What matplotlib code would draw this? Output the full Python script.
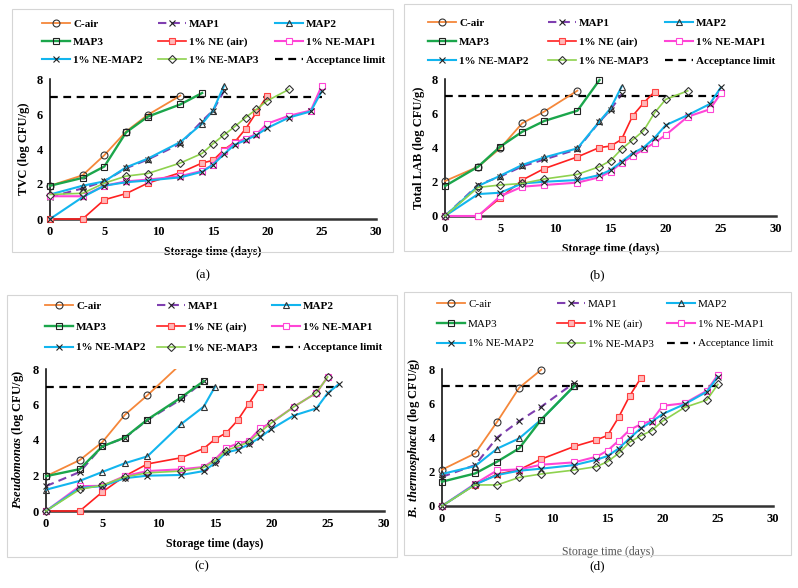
import matplotlib
matplotlib.use("Agg")
import matplotlib.pyplot as plt
from matplotlib.patches import Rectangle

plt.rcParams["font.family"] = "serif"
plt.rcParams["font.serif"] = ["Liberation Serif", "DejaVu Serif"]
plt.rcParams["mathtext.fontset"] = "custom"
plt.rcParams["mathtext.it"] = "Liberation Serif:italic:bold"
plt.rcParams["mathtext.rm"] = "Liberation Serif:bold"

# sampling days; each series uses the first len(values) of them
sampling_days = [0, 3, 5, 7, 9, 12, 14, 15, 16, 17, 18, 19, 20, 22, 24, 25, 26]
series_names = ["C-air", "MAP1", "MAP2", "MAP3", "1% NE (air)",
                "1% NE-MAP1", "1% NE-MAP2", "1% NE-MAP3"]
acceptance = 7

# (a) TVC
tvc_cair = [1.9, 2.5, 3.65, 5.0, 5.95, 7.05]
tvc_map1 = [1.25, 1.75, 2.15, 2.9, 3.4, 4.3, 5.6, 6.2, 7.3]
tvc_map2 = [1.4, 1.9, 2.15, 2.95, 3.45, 4.4, 5.45, 6.2, 7.6]
tvc_map3 = [1.9, 2.35, 3.0, 4.95, 5.85, 6.55, 7.2]
tvc_ne_air = [0, 0, 1.1, 1.45, 2.05, 2.65, 3.2, 3.35, 3.95, 4.4, 5.15, 6.1, 7.05]
tvc_ne_map1 = [1.3, 1.3, 1.9, 2.15, 2.25, 2.45, 2.75, 3.1, 3.9, 4.35, 4.6, 4.85, 5.45, 5.9, 6.2, 7.6]
tvc_ne_map2 = [0, 1.25, 1.9, 2.1, 2.2, 2.38, 2.7, 3.1, 3.7, 4.25, 4.5, 4.8, 5.2, 5.8, 6.15, 7.3]
tvc_ne_map3 = [1.4, 1.47, 2.05, 2.45, 2.6, 3.2, 3.75, 4.3, 4.8, 5.28, 5.8, 6.27, 6.76, 7.41]
tvc_accept_days = [0, 25]

# (b) Total LAB
lab_cair = [2.04, 2.88, 3.95, 5.42, 6.1, 7.32]
lab_map1 = [0, 1.82, 2.3, 2.9, 3.3, 3.9, 5.5, 6.2, 7.1]
lab_map2 = [0, 1.75, 2.35, 2.98, 3.42, 3.95, 5.52, 6.28, 7.55]
lab_map3 = [1.75, 2.88, 4.05, 4.92, 5.55, 6.15, 7.94]
lab_ne_air = [0, 0, 1.05, 2.1, 2.77, 3.45, 4.0, 4.08, 4.47, 5.84, 6.6, 7.26]
lab_ne_map1 = [0, 0, 1.15, 1.71, 1.81, 1.95, 2.26, 2.59, 3.1, 3.5, 3.89, 4.28, 4.73, 5.8, 6.23, 7.16]
lab_ne_map2 = [0, 1.28, 1.36, 1.9, 2.0, 2.1, 2.39, 2.68, 3.17, 3.66, 4.0, 4.57, 5.3, 5.89, 6.54, 7.51]
lab_ne_map3 = [0, 1.67, 1.81, 1.9, 2.16, 2.43, 2.88, 3.23, 3.91, 4.44, 4.98, 6.03, 6.81, 7.31]
lab_accept_days = [0, 25]

# (c) Pseudomonas
pse_cair = [1.96, 2.87, 3.88, 5.42, 6.52, 8.3]
pse_map1 = [1.4, 2.2, 3.65, 4.12, 5.12, 6.3, 7.3]
pse_map2 = [1.2, 1.7, 2.2, 2.69, 3.08, 4.9, 5.88, 7.0]
pse_map3 = [1.96, 2.36, 3.64, 4.14, 5.15, 6.4, 7.32]
pse_ne_air = [0, 0, 1.07, 1.97, 2.65, 3.0, 3.52, 4.05, 4.4, 5.1, 6.05, 7.0]
pse_ne_map1 = [0, 1.4, 1.42, 1.97, 2.25, 2.35, 2.48, 2.9, 3.55, 3.8, 3.95, 4.65, 4.98, 5.87, 6.66, 7.55]
pse_ne_map2 = [0, 1.3, 1.4, 1.85, 1.99, 2.03, 2.25, 2.7, 3.3, 3.45, 3.75, 4.15, 4.62, 5.38, 5.78, 6.64, 7.15]
pse_ne_map3 = [0, 1.22, 1.45, 1.92, 2.15, 2.25, 2.45, 2.82, 3.4, 3.65, 3.88, 4.45, 4.96, 5.87, 6.66, 7.55]
pse_accept_days = [0, 26]

# (d) B. thermosphacta
bt_cair = [2.12, 3.07, 4.92, 6.91, 7.96]
bt_map1 = [1.7, 2.39, 4.0, 4.96, 5.8, 7.2]
bt_map2 = [1.87, 2.33, 3.35, 3.95, 5.05, 7.0]
bt_map3 = [1.42, 1.9, 2.59, 3.37, 5.05, 7.02]
bt_ne_air = [0, 1.25, 1.85, 2.12, 2.74, 3.48, 3.86, 4.12, 5.17, 6.42, 7.45]
bt_ne_map1 = [0, 1.3, 2.08, 2.14, 2.41, 2.55, 2.88, 3.23, 3.81, 4.44, 4.77, 4.98, 5.85, 6.0, 6.73, 7.65]
bt_ne_map2 = [0, 1.26, 1.81, 2.06, 2.18, 2.39, 2.7, 2.92, 3.35, 3.95, 4.53, 4.92, 5.37, 5.95, 6.67, 7.55]
bt_ne_map3 = [0, 1.23, 1.23, 1.67, 1.87, 2.1, 2.3, 2.59, 3.07, 3.72, 4.1, 4.4, 4.96, 5.76, 6.19, 7.1]
bt_accept_days = [0, 25]

# series styling (same order as series_names)
colors = ["#F5873A", "#7F3FB0", "#12B5EE", "#1BA64B", "#FF2020", "#FF45D6", "#12B5EE", "#8ED24E"]
markers = ["o", "x", "^", "s", "s", "s", "x", "D"]
line_styles = ["-", (0, (4, 2.5)), "-", "-", "-", "-", "-", "-"]
line_widths = [1.3, 1.5, 1.5, 1.7, 1.2, 1.5, 1.5, 1.2]
edge_colors = ["#333333", "#222222", "#333333", "#222222", "#FF4040", "#FF45D6", "#222222", "#333333"]
face_colors = ["none", "none", "none", "none", "#FFB8B8", "white", "none", "none"]
marker_sizes = [5, 4.5, 4.5, 4.2, 3.8, 5, 4.5, 3.8]

W, H = 798, 588
fig = plt.figure(figsize=(W / 100, H / 100), dpi=100)


def px_rect(x0, y_top, x1, y_bot):
    return [x0 / W, 1 - y_bot / H, (x1 - x0) / W, (y_bot - y_top) / H]


def draw_panel(rect, data, accept_days, ylabel, legend_cols, legend_mid, row_gap,
               frame, tag, tag_y, xlabel_pad=6, light=False):
    ax = fig.add_axes(px_rect(*rect))
    handles = []
    for i, vals in enumerate(data):
        days = sampling_days[:len(vals)]
        (ln,) = ax.plot(days, vals, color=colors[i], ls=line_styles[i], lw=line_widths[i],
                        marker=markers[i], ms=marker_sizes[i], mec=edge_colors[i],
                        mfc=face_colors[i], mew=0.8, clip_on=max(vals) > 8.1, zorder=3 + i * 0.1)
        handles.append(ln)
    (acc,) = ax.plot(accept_days, [acceptance, acceptance], color="black", ls=(0, (3.5, 2.5)),
                     lw=1.6, zorder=2, clip_on=False)
    handles.append(acc)
    labels = series_names + ["Acceptance limit"]

    ax.set_xlim(0, 30)
    ax.set_ylim(0, 8)
    ax.set_xticks([0, 5, 10, 15, 20, 25, 30])
    ax.set_yticks([0, 2, 4, 6, 8])
    for s in ["top", "right"]:
        ax.spines[s].set_visible(False)
    ax.spines["left"].set_linewidth(1.1)
    ax.spines["bottom"].set_linewidth(1.8)
    ax.spines["bottom"].set_color("#333333")
    ax.tick_params(length=0, labelsize=9, pad=5)
    for t in ax.get_xticklabels() + ax.get_yticklabels():
        t.set_fontweight("bold")
    if light:
        ax.set_xlabel("Storage time (days)", fontsize=8.5, color="#555555", labelpad=xlabel_pad)
    else:
        ax.set_xlabel("Storage time (days)", fontsize=8.5, fontweight="bold", labelpad=xlabel_pad)
    ax.set_ylabel(ylabel, fontsize=9, fontweight="bold", labelpad=5)

    # legend: three columns laid out row-wise like the original
    for c in range(3):
        idx = [c, c + 3, c + 6]
        fig.legend([handles[k] for k in idx], [labels[k] for k in idx],
                   loc="center left", bbox_to_anchor=(legend_cols[c] / W, 1 - legend_mid / H),
                   frameon=False, borderpad=0, borderaxespad=0, handlelength=2.5,
                   handletextpad=0.3, labelspacing=row_gap,
                   prop={"size": 8, "weight": "normal" if light else "bold"})

    x0, y0, x1, y1 = frame
    fig.add_artist(Rectangle((x0 / W, 1 - y1 / H), (x1 - x0) / W, (y1 - y0) / H,
                             transform=fig.transFigure, fill=False, ec="#D5D5D5", lw=0.8))
    fig.text(((x0 + x1) / 2) / W, 1 - tag_y / H, tag, ha="center", va="center", fontsize=9.5)
    return ax


draw_panel((50, 79, 376, 219),
           [tvc_cair, tvc_map1, tvc_map2, tvc_map3, tvc_ne_air, tvc_ne_map1, tvc_ne_map2, tvc_ne_map3],
           tvc_accept_days, "TVC (log CFU/g)", [42, 158, 275], 42, 0.75,
           (12, 9, 393, 252), "(a)", 275)
draw_panel((445, 79, 776, 216),
           [lab_cair, lab_map1, lab_map2, lab_map3, lab_ne_air, lab_ne_map1, lab_ne_map2, lab_ne_map3],
           lab_accept_days, "Total LAB (log CFU/g)", [428, 548, 665], 42, 0.8,
           (404, 4, 791, 251), "(b)", 275)
draw_panel((46, 369, 384, 511),
           [pse_cair, pse_map1, pse_map2, pse_map3, pse_ne_air, pse_ne_map1, pse_ne_map2, pse_ne_map3],
           pse_accept_days, r"$\mathit{Pseudomonas}$ (log CFU/g)", [45, 157, 272], 327, 0.97,
           (7, 295, 397, 557), "(c)", 566)
draw_panel((442, 369, 773, 506),
           [bt_cair, bt_map1, bt_map2, bt_map3, bt_ne_air, bt_ne_map1, bt_ne_map2, bt_ne_map3],
           bt_accept_days, r"$\mathit{B.\ thermosphacta}$ (log CFU/g)", [437, 557, 667], 324, 0.88,
           (404, 292, 791, 555), "(d)", 566, xlabel_pad=15, light=True)

fig.savefig("out.png", dpi=100, facecolor="white")
